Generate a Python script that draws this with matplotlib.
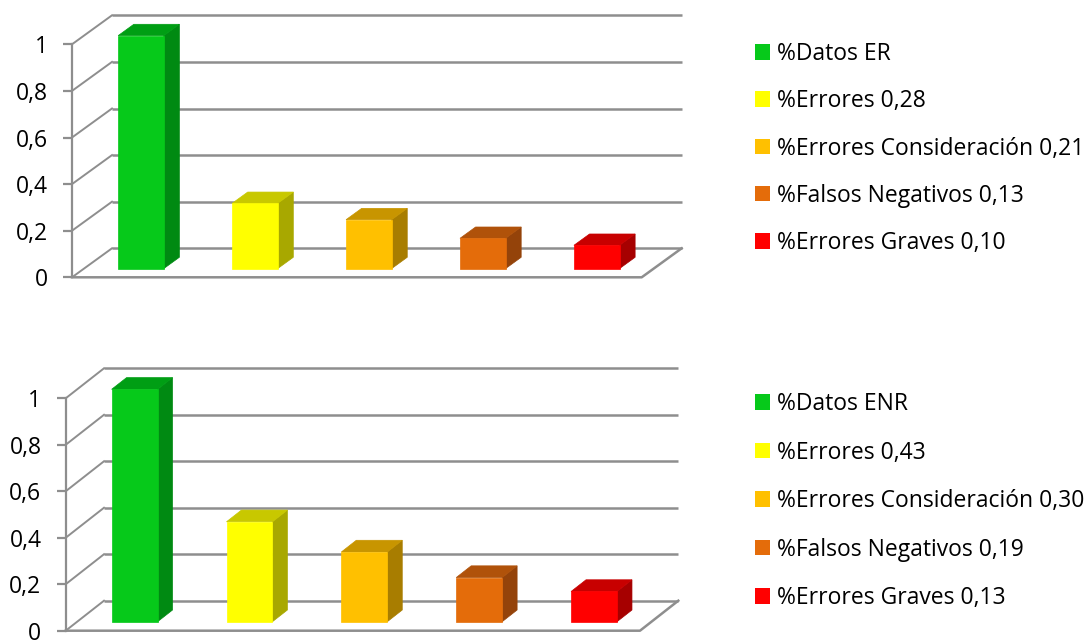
import matplotlib
matplotlib.use("Agg")
import matplotlib.pyplot as plt
from matplotlib.patches import Polygon, Patch

plt.rcParams['font.family'] = ['Open Sans', 'DejaVu Sans']

# --- data ---------------------------------------------------------------
names_er = ["%Datos ER", "%Errores", "%Errores Consideración",
            "%Falsos Negativos", "%Errores Graves"]
values_er = [1.0, 0.28, 0.21, 0.13, 0.10]

names_enr = ["%Datos ENR", "%Errores", "%Errores Consideración",
             "%Falsos Negativos", "%Errores Graves"]
values_enr = [1.0, 0.43, 0.30, 0.19, 0.13]

y_ticks = [0, 0.2, 0.4, 0.6, 0.8, 1.0]
y_tick_labels = ["0", "0,2", "0,4", "0,6", "0,8", "1"]

# front / top / side shades for each series
face_colors = ["#06C91A", "#FFFF00", "#FFC000", "#E46C0A", "#FF0000"]
top_colors = ["#009E14", "#C8C800", "#C89500", "#B0520A", "#C80000"]
side_colors = ["#008A12", "#A8A800", "#A87D00", "#94430A", "#A60000"]

GRID = "#8E8E8E"
FONT_SIZE = 16.5
W, H = 1090, 641


def fmt(v):
    return f"{v:.2f}".replace(".", ",")


def legend_labels(names, values):
    out = [names[0]]
    for n, v in zip(names[1:], values[1:]):
        out.append(f"{n} {fmt(v)}")
    return out


def place_axes(fig, x0px, x5px, y0px, y1px, xlim, ylim):
    """Create an axes whose data point (0,0) lands at (x0px,y0px) and (5,1)
    at (x5px,y1px), in pixels measured from the top-left corner."""
    sx = (x5px - x0px) / 5.0
    sy = (y0px - y1px)
    left = x0px + xlim[0] * sx
    right = x0px + xlim[1] * sx
    bottom = y0px - ylim[0] * sy
    top = y0px - ylim[1] * sy
    ax = fig.add_axes([left / W, 1 - bottom / H, (right - left) / W,
                       (bottom - top) / H])
    ax.set_xlim(*xlim)
    ax.set_ylim(*ylim)
    return ax


def draw_panel(fig, names, values, x0px, x5px, y0px, y1px, dpx, dpy,
               legend_top_px, spacing):
    sx = (x5px - x0px) / 5.0
    sy = (y0px - y1px)
    dx = dpx / sx          # depth shift in category units
    dy = dpy / sy          # depth shift in value units
    n = len(values)
    ax = place_axes(fig, x0px, x5px, y0px, y1px,
                    (0, n + dx + 0.02), (-0.03, 1 + dy + 0.03))
    for s in ("top", "right", "bottom"):
        ax.spines[s].set_visible(False)
    ax.spines["left"].set_bounds(0, 1)
    ax.spines["left"].set_color(GRID)
    ax.spines["left"].set_linewidth(1.6)
    ax.set_xticks([])
    ax.set_yticks(y_ticks, y_tick_labels)
    ax.tick_params(axis="y", direction="out", length=6.5, width=1.6,
                   color=GRID, labelsize=FONT_SIZE, pad=11,
                   labelcolor="black")

    # back wall gridlines and their diagonal connectors
    for v in y_ticks:
        ax.plot([dx, n + dx], [v + dy, v + dy], color=GRID, lw=1.8,
                solid_capstyle="butt", zorder=1)
        ax.plot([0, dx], [v, v + dy], color=GRID, lw=1.4, zorder=1)
    # floor outline
    ax.plot([0, n, n + dx], [0, 0, dy], color=GRID, lw=1.8, zorder=1,
            clip_on=False)

    # 3-D columns
    d0, d1 = 0.30, 0.69
    half = 0.2
    for i, v in enumerate(values):
        xa, xb = i + 0.5 - half, i + 0.5 + half
        front = [(xa + d0 * dx, d0 * dy), (xb + d0 * dx, d0 * dy),
                 (xb + d0 * dx, v + d0 * dy), (xa + d0 * dx, v + d0 * dy)]
        side = [(xb + d0 * dx, d0 * dy), (xb + d1 * dx, d1 * dy),
                (xb + d1 * dx, v + d1 * dy), (xb + d0 * dx, v + d0 * dy)]
        top = [(xa + d0 * dx, v + d0 * dy), (xb + d0 * dx, v + d0 * dy),
               (xb + d1 * dx, v + d1 * dy), (xa + d1 * dx, v + d1 * dy)]
        for poly, c in ((side, side_colors[i]), (top, top_colors[i]),
                        (front, face_colors[i])):
            ax.add_patch(Polygon(poly, closed=True, facecolor=c,
                                 edgecolor=c, lw=0.5, zorder=3))

    handles = [Patch(facecolor=c, edgecolor="none") for c in face_colors]
    fig.legend(handles, legend_labels(names, values), loc="upper left",
               bbox_to_anchor=(755 / W, 1 - legend_top_px / H),
               bbox_transform=fig.transFigure, frameon=False,
               fontsize=FONT_SIZE, handlelength=0.66, handleheight=0.66,
               handletextpad=0.29, labelspacing=spacing, borderaxespad=0,
               borderpad=0)
    return ax


fig = plt.figure(figsize=(W / 100, H / 100), dpi=100)
fig.patch.set_facecolor("white")

draw_panel(fig, names_er, values_er, 72, 641.7, 277.3, 44.3, 40, 29, 42,
           1.015)
draw_panel(fig, names_enr, values_enr, 65.7, 640, 630.7, 398.3, 38.3, 30,
           392, 1.07)

fig.savefig("out.png", dpi=100, facecolor="white")
